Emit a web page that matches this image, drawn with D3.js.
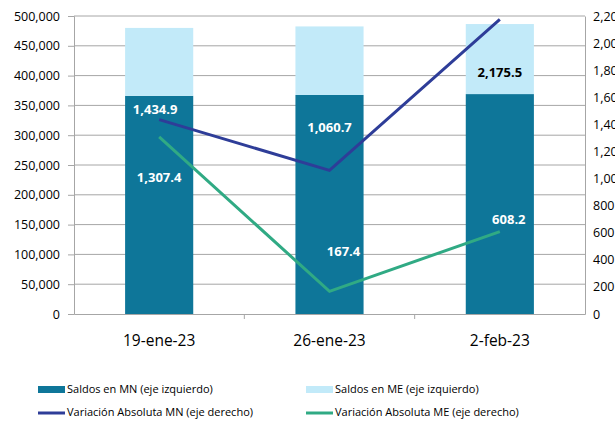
<!DOCTYPE html>
<html>
<head>
<meta charset="utf-8">
<script src="https://cdn.jsdelivr.net/npm/d3@7"></script>
<style>
  body { margin: 0; background: #fff; }
  svg { display: block; overflow: visible; }
  text { font-family: "Open Sans", "DejaVu Sans", sans-serif; }
</style>
</head>
<body>
<svg width="615" height="425"></svg>
<script>
const categories = ["19-ene-23", "26-ene-23", "2-feb-23"];
const saldosMN = [366000, 367500, 369000];
const saldosME = [114000, 115000, 117500];
const varMN = [1434.9, 1060.7, 2175.5];
const varME = [1307.4, 167.4, 608.2];
const leftTicks = d3.range(0, 500001, 50000);
const rightTicks = d3.range(0, 2201, 200);

const svg = d3.select("svg"),
    margin = {top: 16, right: 30, bottom: 111, left: 74},
    width = +svg.attr("width") - margin.left - margin.right,
    height = +svg.attr("height") - margin.top - margin.bottom;

const g = svg.append("g").attr("transform", `translate(${margin.left},${margin.top})`);

const x = d3.scaleBand().domain(categories).range([0, width]).paddingInner(0.6).paddingOuter(0.3);
const xOuter = d3.scaleBand().domain(categories).range([0, width]);
const yL = d3.scaleLinear().domain([0, 500000]).range([height, 0]);
const yR = d3.scaleLinear().domain([0, 2200]).range([height, 0]);

const fmt = d3.format(",");
const fmt1 = d3.format(",.1f");

// gridlines
g.append("g").selectAll("line")
  .data(leftTicks.slice(1))
  .enter().append("line")
    .attr("x1", 0).attr("x2", width)
    .attr("y1", d => yL(d)).attr("y2", d => yL(d))
    .attr("stroke", "#a6a6a6").attr("stroke-width", 1);

// bars
const rows = categories.map((c, i) => ({cat: c, mn: saldosMN[i], me: saldosME[i]}));
g.append("g").selectAll("rect.mn")
  .data(rows).enter().append("rect")
    .attr("x", d => x(d.cat)).attr("width", x.bandwidth())
    .attr("y", d => yL(d.mn)).attr("height", d => yL(0) - yL(d.mn))
    .attr("fill", "#0e7699");
g.append("g").selectAll("rect.me")
  .data(rows).enter().append("rect")
    .attr("x", d => x(d.cat)).attr("width", x.bandwidth())
    .attr("y", d => yL(d.mn + d.me)).attr("height", d => yL(d.mn) - yL(d.mn + d.me))
    .attr("fill", "#c2eaf9");

// axes
const axL = g.append("g").call(d3.axisLeft(yL).tickValues(leftTicks).tickFormat(fmt).tickSize(6).tickPadding(8));
const axR = g.append("g").attr("transform", `translate(${width},0)`)
  .call(d3.axisRight(yR).tickValues(rightTicks).tickFormat(fmt).tickSize(0).tickPadding(8));
const axB = g.append("g").attr("transform", `translate(0,${height})`)
  .call(d3.axisBottom(xOuter).tickSize(0).tickPadding(21));
// category boundary ticks
g.append("g").selectAll("line")
  .data(categories.slice(1)).enter().append("line")
    .attr("x1", d => xOuter(d)).attr("x2", d => xOuter(d))
    .attr("y1", height).attr("y2", height + 5)
    .attr("stroke", "#a6a6a6");

[axL, axR, axB].forEach(a => {
  a.select(".domain").attr("stroke", "#a6a6a6");
  a.selectAll(".tick line").attr("stroke", "#a6a6a6");
  a.selectAll("text").attr("fill", "#000").style("font-size", "12.5px");
});
axB.selectAll("text").style("font-size", "15.5px");

// lines
const cx = d => x(d) + x.bandwidth() / 2;
const line = d3.line().x(d => cx(d.cat)).y(d => yR(d.v));
const mnPts = categories.map((c, i) => ({cat: c, v: varMN[i]}));
const mePts = categories.map((c, i) => ({cat: c, v: varME[i]}));
g.append("path").datum(mnPts).attr("d", line)
  .attr("fill", "none").attr("stroke", "#2e3d98").attr("stroke-width", 3);
g.append("path").datum(mePts).attr("d", line)
  .attr("fill", "none").attr("stroke", "#30aa84").attr("stroke-width", 3);

// data labels
const mnLab = [{dx: -4, dy: -9, c: "#fff"}, {dx: 0, dy: -42, c: "#fff"}, {dx: 0, dy: 54, c: "#000"}];
const meLab = [{dx: 0, dy: 42, c: "#fff"}, {dx: 14, dy: -39, c: "#fff"}, {dx: 9, dy: -11, c: "#fff"}];
const lab = g.append("g").style("font-weight", "bold").style("font-size", "13px").attr("text-anchor", "middle");
mnPts.forEach((d, i) => {
  lab.append("text").attr("x", cx(d.cat) + mnLab[i].dx).attr("y", yR(d.v) + mnLab[i].dy)
    .attr("fill", mnLab[i].c).attr("dominant-baseline", "middle").text(fmt1(d.v));
});
mePts.forEach((d, i) => {
  lab.append("text").attr("x", cx(d.cat) + meLab[i].dx).attr("y", yR(d.v) + meLab[i].dy)
    .attr("fill", meLab[i].c).attr("dominant-baseline", "middle").text(fmt1(d.v));
});

// legend
const legend = svg.append("g").style("font-size", "11px");
const items = [
  {label: "Saldos en MN (eje izquierdo)", color: "#0e7699", type: "rect", x: 38, y: 390},
  {label: "Saldos en ME (eje izquierdo)", color: "#c2eaf9", type: "rect", x: 306, y: 390},
  {label: "Variación Absoluta MN (eje derecho)", color: "#2e3d98", type: "line", x: 38, y: 413},
  {label: "Variación Absoluta ME (eje derecho)", color: "#30aa84", type: "line", x: 306, y: 413}
];
items.forEach(it => {
  if (it.type === "rect") {
    legend.append("rect").attr("x", it.x).attr("y", it.y - 4).attr("width", 27).attr("height", 7).attr("fill", it.color);
  } else {
    legend.append("line").attr("x1", it.x).attr("x2", it.x + 27).attr("y1", it.y).attr("y2", it.y)
      .attr("stroke", it.color).attr("stroke-width", 3);
  }
  legend.append("text").attr("x", it.x + 29).attr("y", it.y).attr("dominant-baseline", "middle").text(it.label);
});
</script>
</body>
</html>
